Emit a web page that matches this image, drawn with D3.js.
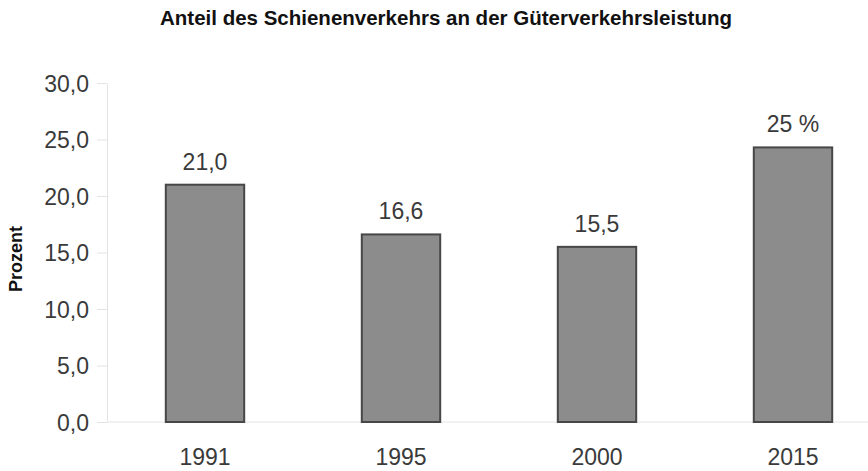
<!DOCTYPE html>
<html>
<head>
<meta charset="utf-8">
<title>Schienenverkehr</title>
<style type="text/css">
    body { margin: 0; background: #fff; }
    .chart text { font-family: "Liberation Sans", Arial, sans-serif; }
    .axis path, .axis line { stroke: #e4e4e4; stroke-width: 1px; }
    .axis text { fill: #3a3a3a; font-size: 23px; }
    .bar { fill: #8c8c8c; stroke: #474747; stroke-width: 2px; }
    .val { fill: #3a3a3a; font-size: 23px; text-anchor: middle; }
</style>
</head>
<body>
<svg class="chart" width="868" height="471"></svg>
<script src="https://cdn.jsdelivr.net/npm/d3@7"></script>
<script type="text/javascript">
var years = ['1991', '1995', '2000', '2015'];
var values = [21.0, 16.6, 15.5, 24.3];
var valueLabels = ['21,0', '16,6', '15,5', '25 %'];
var yTicks = [0, 5, 10, 15, 20, 25, 30];

var svg = d3.select('.chart');

var x = d3.scaleBand()
    .domain(years)
    .range([107, 891])
    .paddingInner(0.6)
    .paddingOuter(0.3);

var y = d3.scaleLinear()
    .domain([0, 30])
    .range([422, 83]);

var fmt = function(d) { return d3.format('.1f')(d).replace('.', ','); };

// y axis
svg.append('g')
    .attr('class', 'axis')
    .attr('transform', 'translate(107,0)')
    .call(d3.axisLeft(y).tickValues(yTicks).tickSize(10).tickPadding(8).tickSizeOuter(0).tickFormat(fmt))
    .selectAll('text')
    .attr('dy', '0.36em');

// baseline
svg.append('line')
    .attr('class', 'axis')
    .attr('x1', 107).attr('x2', 868)
    .attr('y1', y(0)).attr('y2', y(0))
    .style('stroke', '#e4e4e4');

// bars
svg.selectAll('.bar')
    .data(values)
    .enter()
    .append('rect')
    .attr('class', 'bar')
    .attr('x', function(d, i) { return x(years[i]); })
    .attr('y', function(d) { return y(d); })
    .attr('width', x.bandwidth())
    .attr('height', function(d) { return y(0) - y(d); });

// value labels
svg.selectAll('.val')
    .data(values)
    .enter()
    .append('text')
    .attr('class', 'val')
    .attr('x', function(d, i) { return x(years[i]) + x.bandwidth() / 2; })
    .attr('y', function(d) { return y(d) - 15; })
    .text(function(d, i) { return valueLabels[i]; });

// x labels
svg.selectAll('.xl')
    .data(years)
    .enter()
    .append('text')
    .attr('class', 'val')
    .attr('x', function(d) { return x(d) + x.bandwidth() / 2; })
    .attr('y', 465)
    .text(function(d) { return d; });

// title
svg.append('text')
    .attr('x', 446)
    .attr('y', 25)
    .attr('text-anchor', 'middle')
    .style('font-size', '20.5px')
    .style('font-weight', 'bold')
    .style('fill', '#111')
    .text('Anteil des Schienenverkehrs an der Güterverkehrsleistung');

// y title
svg.append('text')
    .attr('transform', 'translate(22,259) rotate(-90)')
    .attr('text-anchor', 'middle')
    .style('font-size', '18px')
    .style('font-weight', 'bold')
    .style('fill', '#111')
    .text('Prozent');
</script>
</body>
</html>
